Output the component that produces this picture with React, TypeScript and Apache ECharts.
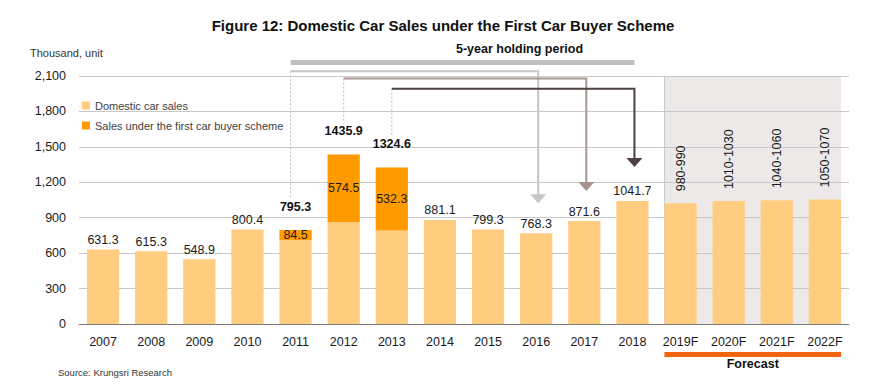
import React, { useEffect, useRef } from "react";
import * as echarts from "echarts";

const categories = ["2007", "2008", "2009", "2010", "2011", "2012", "2013", "2014", "2015", "2016", "2017", "2018", "2019F", "2020F", "2021F", "2022F"];
const domesticSales = [631.3, 615.3, 548.9, 800.4, 710.8, 861.4, 792.3, 881.1, 799.3, 768.3, 871.6, 1041.7, 1022, 1041, 1047, 1055];
const schemeSales: (number | null)[] = [null, null, null, null, 84.5, 574.5, 532.3, null, null, null, null, null, null, null, null, null];
const totalSales: (number | null)[] = [null, null, null, null, 795.3, 1435.9, 1324.6, null, null, null, null, null, null, null, null, null];
const forecastRanges = ["980-990", "1010-1030", "1040-1060", "1050-1070"];
const forecastStart = 12;
const yMax = 2100;
const yInterval = 300;
const holdingPairs = [
  { from: "2011", to: "2016" },
  { from: "2012", to: "2017" },
  { from: "2013", to: "2018" },
];
const seriesNames = ["Domestic car sales", "Sales under the first car buyer scheme"];

const FONT = "Liberation Sans";
const arrowColors = ["#c6c6c6", "#a8958f", "#4e4141"];
const arrowLevels = [2140, 2078, 1993];

export default function App() {
  const ref = useRef<HTMLDivElement>(null);
  useEffect(() => {
    if (!ref.current) return;
    const chart = echarts.init(ref.current, null, { renderer: "svg" });
    const domesticData = domesticSales.map((v, i) => {
      if (totalSales[i] != null) return { value: v, label: { show: false } };
      if (i >= forecastStart) {
        return {
          value: v,
          label: {
            show: true,
            position: "top",
            rotate: 90,
            align: "left",
            verticalAlign: "middle",
            distance: 12,
            formatter: forecastRanges[i - forecastStart],
          },
        };
      }
      return { value: v };
    });
    const option: any = {
      animation: false,
      textStyle: { fontFamily: FONT },
      title: {
        text: "Figure 12: Domestic Car Sales under the First Car Buyer Scheme",
        left: 438,
        top: 13,
        textAlign: "center",
        textStyle: { fontFamily: FONT, fontSize: 15, fontWeight: "bold", color: "#111" },
      },
      legend: {
        data: seriesNames,
        orient: "vertical",
        left: 77,
        top: 95,
        itemWidth: 8,
        itemHeight: 8,
        itemGap: 9,
        icon: "rect",
        textStyle: { fontFamily: FONT, fontSize: 11, color: "#404040" },
      },
      grid: { left: 79, right: 21, top: 76, bottom: 61 },
      xAxis: {
        type: "category",
        data: categories,
        axisLine: { lineStyle: { color: "#7f7f7f" } },
        axisTick: { length: 4, lineStyle: { color: "#7f7f7f" } },
        axisLabel: { fontFamily: FONT, fontSize: 12.5, color: "#1a1a1a", margin: 11 },
      },
      yAxis: {
        type: "value",
        min: 0,
        max: yMax,
        interval: yInterval,
        axisLine: { show: false },
        axisTick: { show: false },
        splitLine: { lineStyle: { color: "#c8c8c8" } },
        axisLabel: {
          fontFamily: FONT,
          fontSize: 12.5,
          color: "#1a1a1a",
          margin: 13,
          formatter: (v: number) => v.toLocaleString("en-US"),
        },
      },
      series: [
        {
          name: seriesNames[0],
          type: "bar",
          stack: "total",
          barWidth: "67%",
          itemStyle: { color: "#FFCC80" },
          label: { show: true, position: "top", distance: 3, fontSize: 12.5, color: "#1a1a1a", fontFamily: FONT },
          data: domesticData,
          z: 3,
        },
        {
          name: seriesNames[1],
          type: "bar",
          stack: "total",
          barWidth: "67%",
          itemStyle: { color: "#FF9A00" },
          label: { show: true, position: "inside", fontSize: 12.5, color: "#1a1a1a", fontFamily: FONT },
          data: schemeSales.map((v) => (v == null ? "-" : v)),
          z: 3,
        },
        {
          name: "total",
          type: "bar",
          stack: "total",
          barWidth: "67%",
          itemStyle: { color: "transparent" },
          label: {
            show: true,
            position: "top",
            distance: 17,
            fontSize: 12.5,
            fontWeight: "bold",
            color: "#111",
            fontFamily: FONT,
            formatter: (p: any) => String(totalSales[p.dataIndex]),
          },
          data: totalSales.map((v) => (v == null ? "-" : 0)),
          z: 3,
        },
      ],
    };
    chart.setOption(option);

    const px = (i: number, v: number) => chart.convertToPixel({ xAxisIndex: 0, yAxisIndex: 0 }, [i, v]) as number[];
    const catW = px(1, 0)[0] - px(0, 0)[0];
    const barW = catW * 0.67;
    const yTop = px(0, yMax)[1];
    const yZero = px(0, 0)[1];
    const fxL = px(forecastStart, 0)[0] - barW / 2;
    const fxR = px(categories.length - 1, 0)[0] + barW / 2;
    const els: any[] = [];
    els.push({
      type: "rect",
      z: -10,
      shape: { x: fxL, y: yTop, width: fxR - fxL, height: yZero - yTop },
      style: { fill: "#ece9e8" },
      silent: true,
    });
    els.push({
      type: "line",
      z: -9,
      shape: { x1: fxL, y1: yTop, x2: fxL, y2: yZero },
      style: { stroke: "#c8c8c8", lineWidth: 1 },
    });
    els.push({ type: "rect", shape: { x: fxL, y: yZero + 28, width: fxR - fxL, height: 5 }, style: { fill: "#F2650C" } });
    els.push({
      type: "text",
      x: (fxL + fxR) / 2,
      y: yZero + 40,
      style: { text: "Forecast", font: `bold 12.5px ${FONT}`, fill: "#111", align: "center", verticalAlign: "middle" },
    });
    let barLeft = 0;
    let barRight = 0;
    holdingPairs.forEach((pair, k) => {
      const fi = categories.indexOf(pair.from);
      const ti = categories.indexOf(pair.to);
      const x0 = px(fi, 0)[0] + (k === 0 ? -5 : 0);
      const x1 = px(ti, 0)[0] + 2;
      const yH = px(0, arrowLevels[k])[1];
      const totalTop = px(fi, totalSales[fi] as number)[1];
      const tipY = px(ti, domesticSales[ti])[1] - 30 - (k === 2 ? 4 : 0);
      if (k === 0) barLeft = x0;
      if (k === 2) barRight = x1;
      els.push({
        type: "line",
        shape: { x1: x0, y1: yH, x2: x0, y2: totalTop - 31 },
        style: { stroke: "#bdbdbd", lineWidth: 1, lineDash: [2, 2] },
      });
      els.push({
        type: "polyline",
        shape: { points: [[x0, yH], [x1, yH], [x1, tipY - 8]] },
        style: { stroke: arrowColors[k], lineWidth: 2, fill: null },
      });
      els.push({
        type: "polygon",
        shape: { points: [[x1 - 8, tipY - 9], [x1 + 8, tipY - 9], [x1, tipY]] },
        style: { fill: arrowColors[k] },
      });
    });
    els.push({ type: "rect", shape: { x: barLeft, y: yTop - 16, width: barRight - barLeft, height: 5 }, style: { fill: "#bfbfbf" } });
    els.push({
      type: "text",
      x: (barLeft + barRight) / 2 + 57,
      y: yTop - 27,
      style: { text: "5-year holding period", font: `bold 12.5px ${FONT}`, fill: "#111", align: "center", verticalAlign: "middle" },
    });
    els.push({
      type: "text",
      x: 30,
      y: 53,
      style: { text: "Thousand, unit", font: `11px ${FONT}`, fill: "#333", align: "left", verticalAlign: "middle" },
    });
    els.push({
      type: "text",
      x: 58,
      y: 372,
      style: { text: "Source: Krungsri Research", font: `9.5px ${FONT}`, fill: "#333", align: "left", verticalAlign: "middle" },
    });
    chart.setOption({ graphic: { elements: els } });
    return () => chart.dispose();
  }, []);
  return <div ref={ref} style={{ width: 870, height: 385, position: "absolute", left: 0, top: 0 }} />;
}
